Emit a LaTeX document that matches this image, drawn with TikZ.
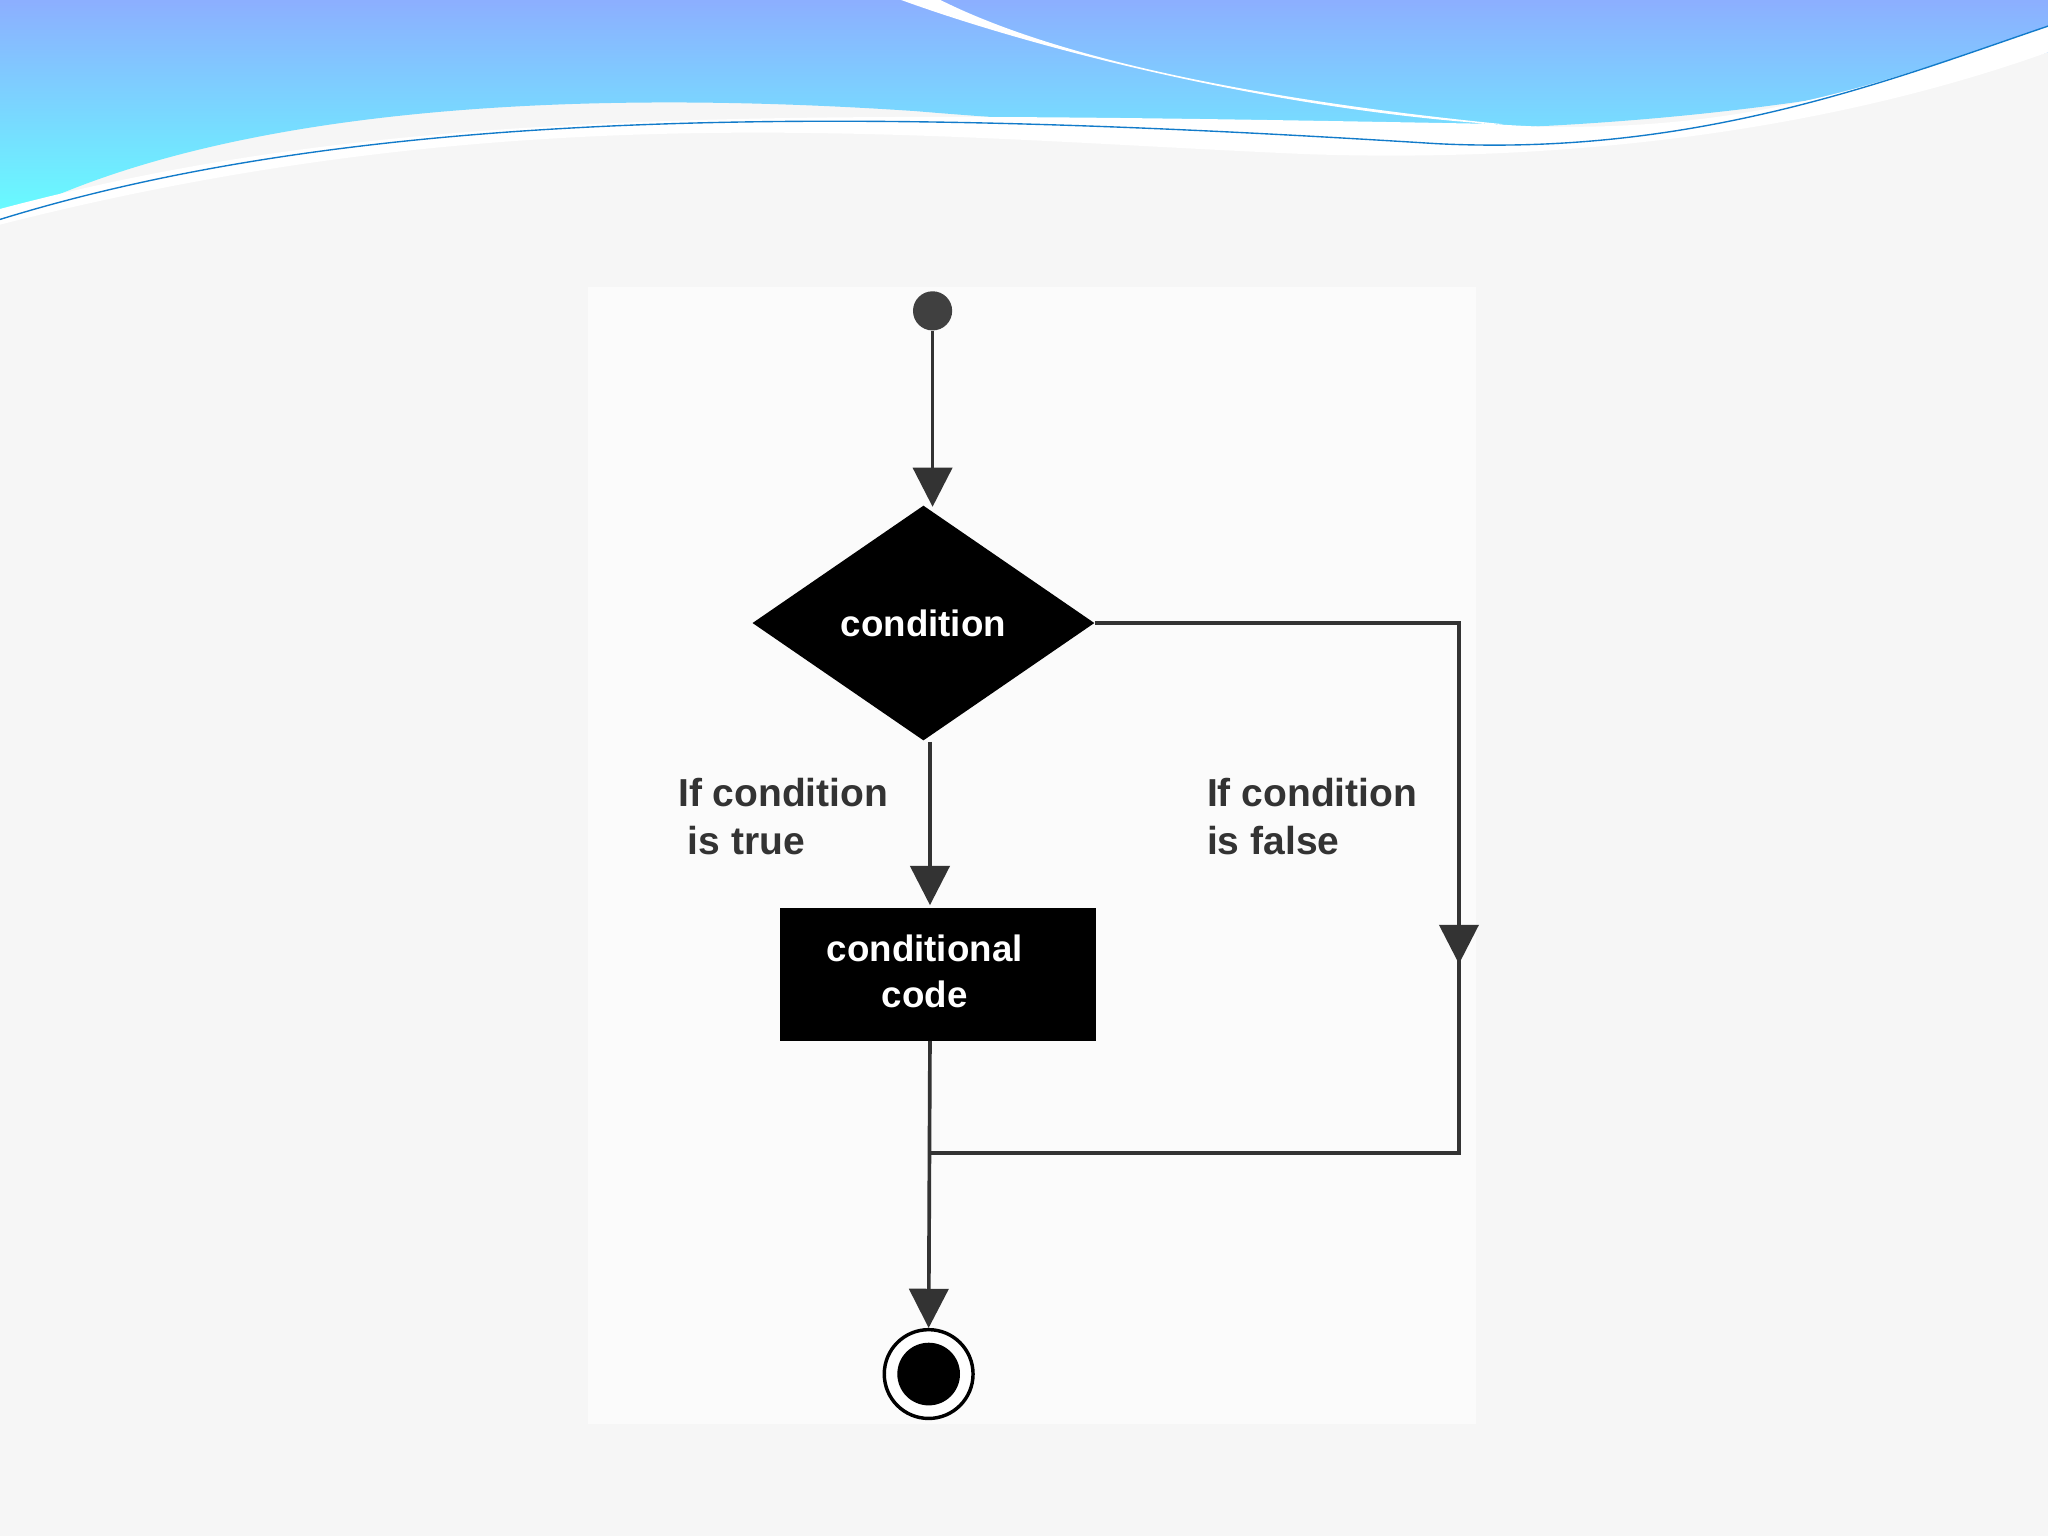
\documentclass[tikz,border=0pt]{standalone}
\usepackage{fontspec}
\setmainfont{Liberation Sans}
\usetikzlibrary{arrows.meta,shapes.geometric}
\begin{document}
\begin{tikzpicture}[x=0.02cm,y=-0.02cm,
  conn/.style={draw=black!80,line width=1.6pt},
  tip/.style={-{Triangle[length=0.6cm,width=0.6cm]}},
  lbl/.style={font=\bfseries\fontsize{17}{21}\selectfont,text=black!80,align=left},
  wtxt/.style={font=\bfseries\fontsize{16}{20}\selectfont,text=white,align=center}]
\useasboundingbox (0,0) rectangle (1568,1176);
\fill[gray!7] (0,0) rectangle (1568,1176);
\fill[white!97!gray] (450,220) rectangle (1130,1090);
% header wave
\shade[top color=cyan!30!blue!45!white, bottom color=cyan!60!white]
  (0,0) -- (1568,0) -- (1568,40) .. controls (1300,110) and (1000,110) .. (700,85)
  .. controls (400,65) and (150,90) .. (0,170) -- cycle;
\fill[white] (690,0) .. controls (800,40) and (1000,90) .. (1180,97)
  .. controls (1350,100) and (1450,60) .. (1568,20) -- (1568,40)
  .. controls (1400,100) and (1200,125) .. (1000,118)
  .. controls (700,105) and (400,70) .. (0,172) -- (0,160)
  .. controls (300,80) and (600,85) .. (1150,95) .. controls (900,70) and (780,30) .. (720,0) -- cycle;
\draw[cyan!60!blue,line width=0.6pt] (0,168) .. controls (300,75) and (700,85) .. (1100,110) .. controls (1300,120) and (1450,60) .. (1568,20);
% nodes
\node[circle,fill=black!75,minimum size=0.6cm,inner sep=0] (s) at (714,238) {};
\node[diamond,fill=black,aspect=1.46,minimum width=5.24cm,minimum height=3.6cm,inner sep=0,wtxt] (c) at (707,477) {condition};
\node[rectangle,fill=black,minimum width=4.84cm,minimum height=2.04cm,wtxt] (b) at (718,746) {};
\node[wtxt] (bt) at (708,744) {conditional\\code};
\node[circle,draw=black,line width=1.5pt,fill=white,minimum size=1.36cm,inner sep=0] (e) at (711,1052) {};
\fill[black] (e.center) circle (0.48cm);
\node[lbl,anchor=west] (lt) at (513,625) {If condition\\\hspace*{0.15cm}is true};
\node[lbl,anchor=west] (lf) at (918,625) {If condition\\is false};
\coordinate (r1) at (1117,477);
\coordinate (r2) at (1117,883);
\coordinate (ra) at (1117,738);
\coordinate (m) at (712,883);
% connectors
\draw[conn,tip] (s) -- (714,388);
\draw[conn,tip] (712,568) -- (712,693);
\draw[conn] (c.east) -- (r1) -- (r2) -- (m);
\draw[conn,tip] (r1) -- (ra);
\draw[conn,tip] (712,797) -- (e.north);
\end{tikzpicture}
\end{document}
